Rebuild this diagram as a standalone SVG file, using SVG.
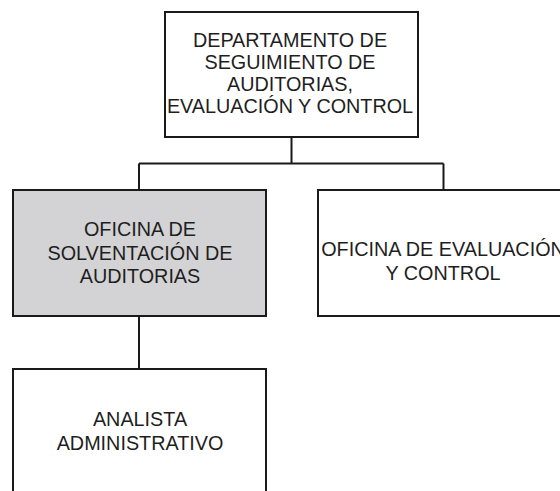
<svg xmlns="http://www.w3.org/2000/svg" width="560" height="491" viewBox="0 0 560 491">
<style>
.box{fill:#ffffff;stroke:#1a1a1a;stroke-width:2}
.gray{fill:#d3d2d4}
.lbl{font-family:"Liberation Sans",Arial,sans-serif;font-size:19.8px;fill:#1e1e1e;text-anchor:middle}
.conn{fill:none;stroke:#1a1a1a;stroke-width:2}
</style>
<rect width="560" height="491" fill="#ffffff"/>
<g id="connectors">
<path class="conn" d="M291.5,137 V163.5 M139,163.5 H443.5 M139,163.5 V190 M443.5,163.5 V190 M139,316 V369"/>
</g>
<g id="node-departamento">
<rect class="box" x="165" y="12" width="253" height="125"/>
<text class="lbl"><tspan x="290" y="46.5">DEPARTAMENTO DE</tspan><tspan x="290" y="68.8">SEGUIMIENTO DE</tspan><tspan x="290" y="91">AUDITORIAS,</tspan><tspan x="290" y="113.3">EVALUACIÓN Y CONTROL</tspan></text>
</g>
<g id="node-solventacion">
<rect class="box gray" x="13" y="190" width="253" height="126"/>
<text class="lbl"><tspan x="140" y="236">OFICINA DE</tspan><tspan x="140" y="259.5">SOLVENTACIÓN DE</tspan><tspan x="140" y="283">AUDITORIAS</tspan></text>
</g>
<g id="node-evaluacion">
<rect class="box" x="318" y="190" width="253" height="126"/>
<text class="lbl"><tspan x="443" y="256">OFICINA DE EVALUACIÓN</tspan><tspan x="443" y="280">Y CONTROL</tspan></text>
</g>
<g id="node-analista">
<rect class="box" x="13" y="369" width="253" height="140"/>
<text class="lbl"><tspan x="140" y="426">ANALISTA</tspan><tspan x="140" y="449.5">ADMINISTRATIVO</tspan></text>
</g>
</svg>
